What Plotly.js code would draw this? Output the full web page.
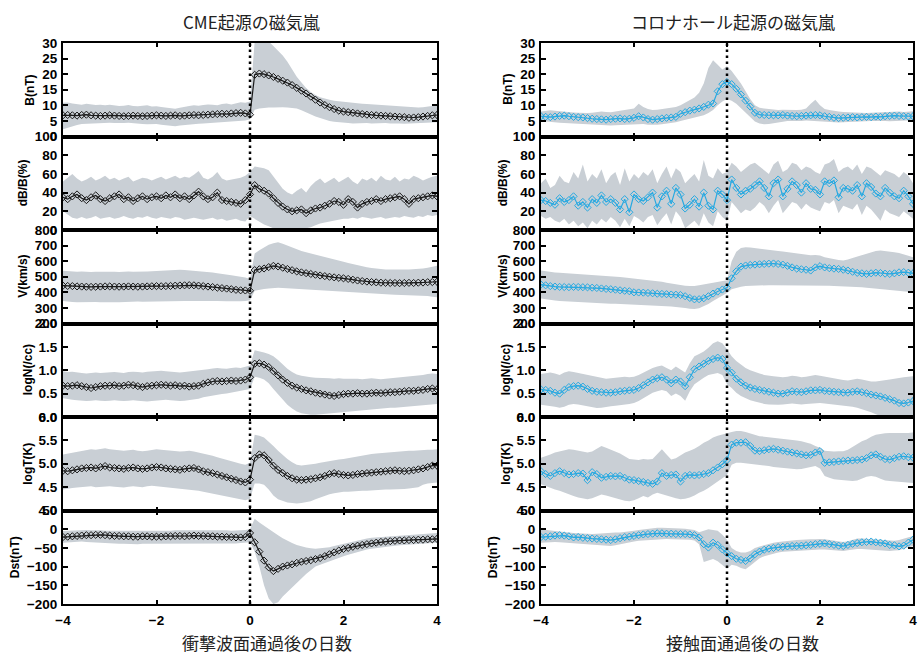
<!DOCTYPE html>
<html><head><meta charset="utf-8">
<script src="https://cdn.plot.ly/plotly-3.0.1.min.js"></script>
<style>html,body{margin:0;padding:0;background:#fff;}</style>
</head><body><div id="chart" style="width:923px;height:663px"></div>
<script>
// ---------- data ----------
const days = [-4,-3.9,-3.8,-3.7,-3.6,-3.5,-3.4,-3.3,-3.2,-3.1,-3,-2.9,-2.8,-2.7,-2.6,-2.5,-2.4,-2.3,-2.2,-2.1,-2,-1.9,-1.8,-1.7,-1.6,-1.5,-1.4,-1.3,-1.2,-1.1,-1,-0.9,-0.8,-0.7,-0.6,-0.5,-0.4,-0.3,-0.2,-0.1,0,0.1,0.2,0.3,0.4,0.5,0.6,0.7,0.8,0.9,1,1.1,1.2,1.3,1.4,1.5,1.6,1.7,1.8,1.9,2,2.1,2.2,2.3,2.4,2.5,2.6,2.7,2.8,2.9,3,3.1,3.2,3.3,3.4,3.5,3.6,3.7,3.8,3.9,4];

const xTicks = [-4,-2,0,2,4];
const bTicks = [0,5,10,15,20,25,30];
const dbTicks = [0,20,40,60,80,100];
const vTicks = [200,300,400,500,600,700,800];
const nTicks = [0,0.5,1,1.5,2];
const tTicks = [4,4.5,5,5.5,6];
const dstTicks = [-200,-150,-100,-50,0,50];
const panelNames = ['B(nT)','dB/B(%)','V(km/s)','logN(/cc)','logT(K)','Dst(nT)'];
const columnTitles = ['CME起源の磁気嵐','コロナホール起源の磁気嵐'];
const xTitles = ['衝撃波面通過後の日数','接触面通過後の日数'];

// CME-driven storms (left column)
const cmeB = [6.8,6.9,6.8,6.7,6.9,7.0,6.8,6.7,6.6,6.7, 6.8,6.7,6.6,6.5,6.6,6.7,6.6,6.5,6.6,6.7, 6.8,6.7,6.6,6.7,6.8,6.6,6.7,6.8,6.9,6.8, 6.9,7.0,7.1,7.2,7.3,7.2,7.4,7.5,7.6,7.4, 7.0, 19.8,20.2,20.0,19.6,19.1,18.5,17.9,17.3,16.5,15.6, 14.7,13.8,12.8,11.8,10.9,10.1,9.4,8.8,8.3,8.0, 7.8,7.6,7.4,7.2,7.0,6.9,6.8,6.7,6.6,6.5, 6.4,6.3,6.2,6.0,6.1,6.2,6.4,6.6,6.8,6.9];
const cmeBHi = [10.8,10.9,10.6,10.4,10.2,10.5,10.3,10.1,10.2,10.0, 10.2,10.0,9.8,9.9,10.1,9.8,9.7,9.9,10.0,9.6, 9.7,9.5,9.3,9.0,8.9,9.2,9.6,9.8,10.0,9.9, 10.1,10.3,10.2,10.0,10.4,10.6,10.3,10.7,11.0,10.8, 11.2, 30.5,32.0,31.5,30.5,29.0,27.5,26.0,24.0,21.5,19.2, 17.3,15.6,14.3,13.3,12.6,12.1,11.8,11.5,11.3,11.1, 10.9,10.8,10.7,10.5,10.4,10.3,10.2,10.1,10.0,9.9, 9.7,9.5,9.4,9.3,9.2,9.3,9.4,9.6,9.8,10.0];
const cmeBLo = [2.3,2.8,3.3,3.7,4.0,4.1,4.2,4.3,4.2,4.3, 4.4,4.3,4.2,4.3,4.4,4.2,4.1,4.0,3.9,4.0, 4.0,3.8,3.6,3.4,3.3,3.5,3.7,3.9,4.0,4.1, 4.2,4.3,4.4,4.5,4.6,4.7,4.8,4.9,5.0,5.1, 5.5, 8.6,9.0,9.2,9.3,9.3,9.4,9.4,9.3,9.2,9.0, 8.4,7.7,7.0,6.4,5.9,5.4,5.0,4.7,4.5,4.3, 4.3,4.2,4.3,4.4,4.3,4.2,4.3,4.4,4.3,4.2, 4.3,4.2,4.1,4.2,4.3,4.4,4.3,4.4,4.5,4.6];

const cmeDB = [35,33,36,38,34,32,35,37,33,31, 34,36,38,33,35,31,34,36,33,35, 36,34,37,35,38,34,36,33,37,41, 36,33,35,40,32,31,30,29,28,32, 38, 48,44,42,39,34,29,25,22,20,21, 22,18,21,23,24,26,28,31,30,27, 33,30,24,28,30,31,33,31,33,34, 35,36,33,28,33,34,35,36,37,36];
const cmeDBHi = [52,56,60,55,52,54,57,53,55,58, 54,56,53,55,57,52,54,56,55,53, 55,57,54,56,58,55,57,56,59,63, 56,54,57,62,55,53,54,55,56,58, 62, 68,67,66,64,57,50,44,40,38,42, 45,40,47,52,55,50,53,56,51,54, 57,52,49,55,53,56,52,58,54,53, 57,52,55,54,58,56,53,55,57,58];
const cmeDBLo = [20,16,13,12,14,12,13,15,12,13, 14,12,13,15,13,12,14,13,15,13, 12,14,13,12,14,13,11,12,13,12, 11,12,13,11,12,10,11,12,10,9, 15, 12,9,6,4,2,1,1,0.5,1,2, 1,2,3,5,7,8,9,10,11,12, 12,13,12,14,13,12,13,14,12,13, 14,13,15,14,13,15,14,16,15,16];

const cmeV = [443,441,440,438,437,436,435,436,437,438, 438,437,436,437,438,437,436,437,438,439, 440,439,440,441,443,444,445,446,445,443, 440,437,434,430,427,424,420,416,413,412, 410, 543,548,553,562,570,566,558,550,542,534, 528,523,518,513,508,504,500,496,493,490, 486,481,476,472,469,466,464,462,461,460, 460,459,460,461,460,462,463,465,466,468];
const cmeVHi = [538,535,534,532,533,531,530,532,533,534, 533,532,531,533,534,532,531,532,533,535, 537,538,540,542,544,545,543,541,539,537, 533,530,527,523,520,515,510,505,500,495, 485, 650,670,690,705,715,722,712,700,688,675, 665,657,650,643,636,628,620,612,604,596, 588,580,573,567,561,556,552,549,547,546, 545,545,546,547,548,550,553,557,563,570];
const cmeVLo = [345,340,338,337,338,339,340,338,337,338, 338,337,336,338,339,340,341,340,341,342, 343,344,345,344,345,346,345,344,345,346, 347,346,345,344,345,343,342,340,342,345, 350, 410,418,422,425,428,430,428,426,424,422, 420,418,416,414,412,410,408,406,404,402, 400,398,396,394,392,390,389,388,387,386, 385,384,383,382,381,380,378,376,372,368];

const cmeN = [0.67,0.66,0.67,0.68,0.66,0.64,0.62,0.64,0.66,0.67, 0.67,0.68,0.66,0.67,0.69,0.68,0.66,0.64,0.66,0.67, 0.68,0.69,0.68,0.67,0.68,0.66,0.67,0.65,0.66,0.67, 0.71,0.74,0.76,0.77,0.76,0.77,0.78,0.77,0.78,0.80, 0.85, 1.14,1.15,1.12,1.07,0.98,0.89,0.80,0.73,0.67,0.63, 0.60,0.57,0.55,0.52,0.50,0.48,0.46,0.45,0.47,0.49, 0.50,0.50,0.51,0.50,0.50,0.51,0.52,0.51,0.52,0.53, 0.53,0.54,0.55,0.56,0.56,0.57,0.58,0.60,0.61,0.59];
const cmeNHi = [0.98,0.96,0.97,0.95,0.94,0.93,0.94,0.95,0.94,0.95, 0.95,0.96,0.95,0.94,0.96,0.97,0.96,0.95,0.97,0.98, 0.98,0.99,0.98,0.97,0.96,0.95,0.96,0.97,0.98,0.99, 1.00,1.02,1.04,1.05,1.04,1.03,1.05,1.06,1.05,1.07, 1.10, 1.43,1.41,1.38,1.35,1.30,1.22,1.12,1.03,0.96,0.91, 0.88,0.86,0.85,0.84,0.84,0.83,0.83,0.82,0.83,0.82, 0.82,0.83,0.82,0.81,0.82,0.83,0.82,0.81,0.82,0.83, 0.83,0.84,0.85,0.86,0.87,0.88,0.90,0.92,0.93,0.92];
const cmeNLo = [0.40,0.38,0.37,0.36,0.35,0.34,0.35,0.36,0.35,0.34, 0.35,0.36,0.35,0.34,0.35,0.36,0.35,0.34,0.33,0.34, 0.35,0.36,0.37,0.36,0.35,0.34,0.35,0.36,0.37,0.39, 0.42,0.44,0.46,0.48,0.49,0.50,0.52,0.54,0.56,0.58, 0.60, 0.86,0.84,0.80,0.72,0.60,0.48,0.36,0.26,0.18,0.12, 0.08,0.06,0.05,0.05,0.06,0.06,0.07,0.08,0.09,0.10, 0.11,0.12,0.13,0.14,0.15,0.16,0.17,0.18,0.19,0.20, 0.20,0.21,0.22,0.22,0.23,0.24,0.25,0.26,0.27,0.28];

const cmeT = [4.85,4.84,4.86,4.88,4.90,4.91,4.92,4.90,4.93,4.95, 4.92,4.91,4.90,4.89,4.91,4.92,4.90,4.89,4.90,4.92, 4.93,4.92,4.90,4.89,4.88,4.87,4.89,4.90,4.91,4.88, 4.84,4.82,4.80,4.77,4.74,4.71,4.68,4.65,4.62,4.60, 4.66, 5.12,5.20,5.18,5.08,4.96,4.87,4.80,4.74,4.69,4.66, 4.65,4.66,4.67,4.69,4.71,4.74,4.78,4.80,4.78,4.76, 4.75,4.76,4.78,4.79,4.80,4.81,4.82,4.83,4.84,4.85, 4.86,4.85,4.84,4.85,4.86,4.88,4.90,4.93,4.96,4.96];
const cmeTHi = [5.20,5.22,5.24,5.26,5.28,5.30,5.31,5.30,5.32,5.33, 5.31,5.30,5.29,5.28,5.29,5.30,5.28,5.27,5.28,5.30, 5.31,5.30,5.29,5.28,5.27,5.26,5.27,5.28,5.26,5.24, 5.22,5.20,5.17,5.14,5.11,5.08,5.05,5.02,5.00,4.98, 5.02, 5.62,5.60,5.56,5.48,5.38,5.28,5.18,5.10,5.03,4.98, 4.96,4.97,4.98,5.00,5.02,5.04,5.06,5.08,5.09,5.10, 5.12,5.14,5.16,5.18,5.20,5.21,5.22,5.23,5.24,5.25, 5.26,5.27,5.27,5.28,5.28,5.29,5.29,5.30,5.30,5.31];
const cmeTLo = [4.45,4.47,4.48,4.49,4.50,4.51,4.52,4.50,4.51,4.52, 4.52,4.51,4.50,4.49,4.51,4.52,4.51,4.50,4.52,4.53, 4.52,4.51,4.50,4.49,4.48,4.47,4.46,4.45,4.44,4.42, 4.40,4.38,4.36,4.34,4.32,4.30,4.28,4.26,4.24,4.22, 4.25, 4.58,4.58,4.55,4.45,4.32,4.24,4.20,4.17,4.16,4.15, 4.16,4.18,4.20,4.24,4.28,4.32,4.35,4.37,4.39,4.40, 4.40,4.41,4.41,4.42,4.42,4.43,4.44,4.44,4.45,4.45, 4.45,4.46,4.46,4.47,4.48,4.50,4.55,4.58,4.59,4.60];

const cmeDst = [-21,-20,-19,-18,-17,-16,-16,-15,-15,-16, -17,-18,-18,-19,-19,-20,-20,-19,-19,-20, -20,-20,-19,-19,-18,-18,-19,-18,-17,-18, -18,-19,-19,-20,-20,-21,-21,-22,-22,-21, -10, -35,-60,-84,-102,-112,-106,-100,-97,-94,-90, -87,-85,-83,-80,-77,-72,-67,-62,-57,-53, -50,-47,-44,-42,-40,-38,-36,-34,-33,-32, -31,-30,-30,-29,-29,-28,-28,-27,-27,-26];
const cmeDstHi = [-5,-4,-3,-3,-2,-2,-3,-2,-3,-4, -4,-5,-5,-4,-5,-6,-6,-5,-5,-6, -6,-5,-5,-4,-3,-3,-2,-2,-1,-2, -1,-2,-2,-3,-3,-3,-4,-4,-3,-2, 0, 28,18,9,0,-8,-16,-24,-31,-37,-42, -46,-49,-51,-52,-51,-50,-48,-45,-42,-38, -35,-32,-29,-27,-25,-23,-22,-20,-19,-18, -17,-16,-15,-14,-13,-12,-11,-11,-10,-10];
const cmeDstLo = [-36,-35,-34,-33,-33,-34,-35,-35,-36,-37, -38,-38,-39,-39,-40,-40,-40,-39,-39,-40, -40,-40,-39,-38,-38,-39,-39,-38,-38,-39, -39,-40,-40,-40,-39,-39,-38,-38,-37,-36, -35, -60,-100,-150,-185,-200,-195,-180,-168,-155,-142, -130,-120,-110,-100,-95,-90,-85,-80,-76,-72, -68,-64,-60,-57,-54,-52,-50,-48,-46,-45, -44,-43,-42,-41,-40,-39,-38,-37,-37,-36];

// Coronal-hole-driven storms (right column)
const chB = [6.5,6.3,6.2,6.4,6.6,6.7,6.5,6.3,6.2,6.1, 5.9,5.7,5.6,5.5,5.4,5.6,5.7,5.8,5.6,5.7, 6.0,6.5,6.1,5.6,5.4,5.6,5.8,6.0,6.1,6.3, 7.3,7.8,8.3,8.6,9.0,9.5,10.2,10.6,14.5,16.8, 17.5, 16.8,15.3,13.5,11.5,9.6,7.6,7.0,6.9,6.8,6.8, 6.8,6.9,6.7,6.6,6.5,6.6,6.7,6.8,6.9,6.8, 6.5,6.3,6.0,5.9,6.0,6.1,6.2,6.1,6.2,6.3, 6.2,6.4,6.3,6.5,6.6,6.7,6.6,6.5,6.4,6.5];
const chBHi = [8.0,8.2,8.4,8.3,8.1,8.0,7.8,7.7,7.6,7.5, 7.5,7.6,7.8,8.0,7.9,7.8,8.0,8.3,8.6,8.8, 9.0,10.5,9.5,8.8,8.5,8.6,8.8,9.0,9.2,9.5, 10.0,10.8,11.5,12.5,14.0,17.0,22.0,24.5,23.0,21.5, 22.5, 21.0,19.0,17.0,14.5,12.0,10.0,9.2,9.0,8.8,8.6, 8.5,8.6,8.5,8.4,8.5,8.6,9.0,10.5,11.8,10.0, 8.8,8.5,8.2,8.0,7.9,7.8,7.7,7.6,7.6,7.5, 7.6,7.7,7.8,7.9,8.0,8.1,8.0,7.9,8.0,8.1];
const chBLo = [5.0,4.8,4.6,4.5,4.4,4.3,4.2,4.1,4.0,4.0, 3.9,3.8,3.7,3.6,3.5,3.5,3.6,3.7,3.8,3.8, 3.8,3.9,4.0,3.8,3.7,3.8,3.9,4.1,4.3,4.6, 5.0,5.4,5.8,6.2,6.5,6.8,7.5,8.5,10.0,11.2, 12.0, 11.5,10.5,9.0,7.5,6.0,4.8,4.2,3.9,4.0,4.3, 4.6,4.8,5.0,5.0,4.9,5.0,5.1,5.0,4.9,5.0, 4.8,4.6,4.5,4.5,4.6,4.7,4.8,4.8,4.9,4.9, 5.0,5.0,5.1,5.0,4.9,5.0,5.1,5.0,5.1,5.2];

const chDB = [32,31,29,27,34,30,32,36,26,30, 24,33,29,37,30,33,29,22,33,19, 38,33,31,35,40,24,36,42,28,45, 38,23,27,33,25,40,26,22,42,38, 32, 54,45,38,42,44,48,52,45,36,50, 54,36,44,52,48,40,50,44,43,38, 52,50,53,35,45,44,42,48,36,50, 46,39,36,45,40,36,34,42,36,28];
const chDBHi = [50,55,45,48,58,52,50,62,55,70, 52,60,55,65,50,58,62,48,66,52, 60,55,62,58,65,50,60,68,55,66, 62,50,55,60,52,75,58,55,66,60, 62, 72,68,62,66,70,72,68,65,60,70, 74,62,65,72,70,64,68,66,62,60, 70,72,76,62,66,68,64,70,60,68, 66,62,58,64,62,60,56,62,58,50];
const chDBLo = [15,12,14,10,8,12,6,10,4,8, 2,10,6,12,8,14,10,3,12,4, 15,12,8,14,16,5,12,18,6,20, 14,2,6,10,4,18,8,4,20,14, 10, 30,24,18,22,20,24,30,26,18,26, 32,18,24,30,28,22,28,24,22,20, 30,28,32,18,26,24,22,28,16,26, 22,16,10,22,18,16,14,20,16,12];

const chV = [450,445,440,437,435,434,433,435,434,433, 432,430,428,425,422,420,417,413,410,407, 400,399,398,396,394,391,390,388,386,385, 383,375,364,355,356,362,375,392,405,418, 430, 490,535,565,572,576,578,580,582,584,585, 582,578,570,560,552,548,545,540,560,568, 560,555,552,550,545,540,532,525,522,518, 522,526,524,520,518,522,528,530,526,522];
const chVHi = [540,535,530,528,526,524,522,520,518,516, 515,514,512,510,508,505,502,498,495,492, 490,487,484,480,476,472,468,462,456,450, 446,442,440,440,445,450,455,462,468,472, 478, 600,660,685,690,688,685,682,678,674,670, 666,662,658,654,650,646,642,638,640,636, 625,618,612,608,605,610,620,630,640,650, 660,666,668,666,662,658,652,645,635,625];
const chVLo = [360,355,350,347,345,343,341,340,338,337, 336,335,333,331,329,327,326,325,324,323, 322,321,320,318,316,315,313,311,309,307, 305,300,295,293,298,310,325,345,362,380, 395, 420,430,436,440,442,444,445,446,446,446, 446,446,446,446,446,445,445,445,444,444, 443,442,441,440,440,438,436,434,432,430, 428,425,422,418,415,412,409,406,403,400];

const chN = [0.59,0.58,0.56,0.52,0.50,0.58,0.64,0.66,0.67,0.65, 0.60,0.56,0.54,0.53,0.52,0.52,0.53,0.55,0.56,0.57, 0.58,0.62,0.68,0.74,0.80,0.83,0.85,0.80,0.72,0.80, 0.76,0.66,0.85,1.02,1.08,1.14,1.20,1.24,1.27,1.24, 1.05, 0.95,0.82,0.74,0.67,0.63,0.60,0.58,0.56,0.54,0.52, 0.50,0.50,0.52,0.55,0.54,0.53,0.55,0.57,0.57,0.58, 0.56,0.55,0.54,0.53,0.52,0.52,0.54,0.55,0.53,0.51, 0.48,0.46,0.44,0.41,0.38,0.35,0.30,0.29,0.31,0.34];
const chNHi = [0.92,0.94,0.95,0.93,0.90,0.95,0.98,0.96,0.94,0.92, 0.90,0.88,0.86,0.84,0.82,0.83,0.84,0.85,0.86,0.85, 0.86,0.90,0.95,1.00,1.05,1.08,1.10,1.05,1.00,1.08, 1.02,0.95,1.15,1.30,1.35,1.40,1.48,1.58,1.62,1.58, 1.45, 1.30,1.20,1.12,1.05,1.00,0.96,0.93,0.90,0.88,0.87, 0.86,0.85,0.86,0.88,0.87,0.85,0.86,0.88,0.90,0.88, 0.86,0.84,0.82,0.80,0.79,0.78,0.80,0.82,0.80,0.78, 0.76,0.76,0.77,0.78,0.80,0.82,0.84,0.85,0.86,0.87];
const chNLo = [0.26,0.25,0.24,0.22,0.20,0.22,0.26,0.28,0.27,0.25, 0.22,0.20,0.19,0.20,0.22,0.23,0.24,0.25,0.27,0.28, 0.30,0.34,0.40,0.46,0.52,0.55,0.58,0.55,0.45,0.50, 0.45,0.35,0.55,0.70,0.78,0.84,0.90,0.92,0.94,0.90, 0.70, 0.62,0.52,0.45,0.40,0.36,0.33,0.30,0.28,0.27,0.26, 0.26,0.27,0.28,0.29,0.28,0.27,0.28,0.29,0.30,0.30, 0.29,0.28,0.27,0.26,0.25,0.24,0.22,0.20,0.17,0.14, 0.10,0.06,0.02,-0.03,-0.08,-0.12,-0.15,-0.17,-0.18,-0.18];

const chT = [4.84,4.78,4.74,4.80,4.84,4.80,4.77,4.78,4.80,4.79, 4.65,4.82,4.78,4.70,4.72,4.74,4.73,4.74,4.70,4.66, 4.65,4.63,4.61,4.59,4.57,4.62,4.80,4.74,4.76,4.77, 4.62,4.74,4.76,4.75,4.76,4.78,4.80,4.86,4.92,4.99, 5.08, 5.41,5.45,5.45,5.46,5.38,5.28,5.27,5.29,5.31,5.32, 5.30,5.28,5.26,5.24,5.22,5.20,5.18,5.19,5.24,5.27, 5.02,5.03,5.04,5.05,5.06,5.07,5.07,5.08,5.09,5.12, 5.18,5.20,5.15,5.10,5.09,5.12,5.15,5.16,5.14,5.13];
const chTHi = [5.13,5.16,5.20,5.24,5.26,5.28,5.31,5.30,5.28,5.26, 5.24,5.26,5.32,5.38,5.34,5.30,5.27,5.22,5.16,5.10, 5.09,5.08,5.10,5.09,5.10,5.20,5.31,5.20,5.09,5.12, 5.18,5.24,5.28,5.32,5.38,5.45,5.50,5.56,5.60,5.63, 5.66, 5.68,5.70,5.70,5.68,5.65,5.62,5.59,5.58,5.57,5.56, 5.55,5.54,5.53,5.52,5.50,5.48,5.46,5.43,5.38,5.34, 5.28,5.27,5.26,5.27,5.27,5.30,5.36,5.42,5.48,5.52, 5.58,5.62,5.64,5.65,5.66,5.66,5.65,5.66,5.66,5.67];
const chTLo = [4.56,4.52,4.48,4.45,4.42,4.38,4.34,4.31,4.28,4.26, 4.24,4.26,4.30,4.34,4.32,4.29,4.27,4.24,4.21,4.20, 4.22,4.26,4.31,4.28,4.34,4.38,4.35,4.31,4.28,4.26, 4.24,4.25,4.28,4.32,4.38,4.42,4.48,4.55,4.62,4.70, 4.76, 4.98,5.02,5.02,5.01,5.00,4.99,4.98,4.97,4.95,4.93, 4.92,4.90,4.89,4.88,4.88,4.89,4.91,4.93,4.95,4.90, 4.74,4.70,4.67,4.66,4.65,4.64,4.63,4.64,4.68,4.72, 4.74,4.72,4.68,4.64,4.63,4.62,4.61,4.60,4.59,4.59];

const chDst = [-21,-20,-19,-17,-16,-17,-19,-22,-21,-23, -24,-25,-26,-27,-28,-29,-27,-24,-21,-20, -18,-16,-14,-13,-12,-11,-11,-12,-12,-13, -13,-13,-14,-16,-22,-40,-49,-36,-42,-54, -64, -72,-79,-82,-85,-78,-67,-60,-55,-52,-50, -48,-47,-46,-45,-45,-44,-43,-42,-40,-39, -38,-40,-42,-44,-45,-42,-39,-37,-35,-34, -33,-35,-36,-38,-42,-43,-46,-44,-36,-28];
const chDstHi = [0,-2,-4,-5,-6,-8,-9,-10,-11,-12, -13,-13,-12,-11,-10,-10,-9,-9,-8,-6, -4,-2,0,2,3,4,4,4,4,3, 2,1,0,-2,-8,-5,0,-2,-4,-15, -28, -50,-58,-62,-62,-58,-50,-46,-42,-39,-36, -34,-32,-31,-30,-29,-28,-28,-27,-27,-26, -27,-29,-31,-33,-34,-32,-28,-25,-25,-26, -27,-28,-29,-30,-31,-31,-29,-26,-22,-18];
const chDstLo = [-36,-35,-34,-34,-35,-36,-37,-38,-39,-40, -40,-41,-42,-43,-44,-45,-43,-40,-37,-35, -33,-31,-30,-28,-27,-27,-26,-26,-27,-27, -27,-27,-28,-30,-40,-88,-85,-80,-86,-95, -106, -95,-98,-104,-107,-98,-88,-78,-72,-68,-65, -62,-60,-59,-58,-57,-57,-56,-55,-55,-54, -54,-55,-56,-57,-58,-56,-54,-53,-53,-54, -55,-56,-57,-58,-58,-57,-56,-52,-48,-45];

// ---------- assembly ----------
const cmeSeries = [[cmeB,cmeBHi,cmeBLo],[cmeDB,cmeDBHi,cmeDBLo],[cmeV,cmeVHi,cmeVLo],[cmeN,cmeNHi,cmeNLo],[cmeT,cmeTHi,cmeTLo],[cmeDst,cmeDstHi,cmeDstLo]];
const chSeries = [[chB,chBHi,chBLo],[chDB,chDBHi,chDBLo],[chV,chVHi,chVLo],[chN,chNHi,chNLo],[chT,chTHi,chTLo],[chDst,chDstHi,chDstLo]];
const yTickSets = [bTicks,dbTicks,vTicks,nTicks,tTicks,dstTicks];
const yFormats = ['d','d','d','.1f','.1f','d'];

const W = 923, H = 663;
const cols = [[63,437],[541,913]];
const topPx = 43, panelPx = 93.5;
const bandColor = '#c9cfd5';
const lineColors = ['#1a1a1a','#27a9e1'];
const titleX = [[30,23,23,28,28,15],[508,503,503,506,506,493]];
const tickFont = {family:'Liberation Sans, Arial, sans-serif', size:13.5, color:'#000', weight:700};
const cjkFont = {family:'Noto Sans CJK JP, sans-serif', size:17, color:'#222'};

const data = [];
const layout = {
  width: W, height: H, margin: {l:0, r:0, t:0, b:0},
  paper_bgcolor: '#fff', plot_bgcolor: '#fff', showlegend: false,
  annotations: [], shapes: []
};

[cmeSeries, chSeries].forEach((series, c) => {
  const xd = [cols[c][0]/W, cols[c][1]/W];
  series.forEach((s, p) => {
    const n = c*6 + p + 1;
    const xa = 'x' + (n === 1 ? '' : n), ya = 'y' + (n === 1 ? '' : n);
    const y0 = 1 - (topPx + panelPx*(p+1))/H, y1 = 1 - (topPx + panelPx*p)/H;
    data.push({x: days, y: s[2], xaxis: xa, yaxis: ya, mode: 'lines', line: {width: 0, color: bandColor}, hoverinfo: 'skip'});
    data.push({x: days, y: s[1], xaxis: xa, yaxis: ya, mode: 'lines', line: {width: 0, color: bandColor}, fill: 'tonexty', fillcolor: bandColor, hoverinfo: 'skip'});
    data.push({x: days, y: s[0], xaxis: xa, yaxis: ya, mode: 'lines+markers',
      line: {width: 1.2, color: lineColors[c]},
      marker: {symbol: 'diamond-open', size: 5.5, color: lineColors[c], line: {width: 1, color: lineColors[c]}}});
    const tv = yTickSets[p];
    layout['xaxis' + (n === 1 ? '' : n)] = {
      domain: xd, range: [-4, 4], anchor: ya, tickvals: xTicks,
      ticks: 'inside', ticklen: 4, tickwidth: 2, tickcolor: '#000', mirror: 'ticks',
      showline: true, linecolor: '#000', linewidth: 2, showgrid: false, zeroline: false,
      showticklabels: p === 5, tickfont: tickFont, ticklabelstandoff: 3
    };
    layout['yaxis' + (n === 1 ? '' : n)] = {
      domain: [y0, y1], range: [tv[0], tv[tv.length-1]], anchor: xa, tickvals: tv,
      tickformat: yFormats[p], ticks: 'inside', ticklen: 5, tickwidth: 2, tickcolor: '#000', mirror: 'ticks',
      showline: true, linecolor: '#000', linewidth: 2, showgrid: false, zeroline: false,
      tickfont: tickFont, ticklabelstandoff: 1
    };
    layout.annotations.push({xref: 'paper', yref: 'paper', x: titleX[c][p]/W, y: (y0+y1)/2,
      text: panelNames[p], textangle: -90, showarrow: false, xanchor: 'center', yanchor: 'middle',
      font: {family: 'Liberation Sans, Arial, sans-serif', size: 12, color: '#000', weight: 700}});
  });
  // dotted zero line across the column
  layout.shapes.push({type: 'line', xref: c === 0 ? 'x' : 'x7', yref: 'paper', x0: 0, x1: 0,
    y0: 1 - (topPx + panelPx*6)/H, y1: 1 - topPx/H, layer: 'above',
    line: {color: '#000', width: 2.5, dash: '2.5px,3.5px'}});
  // titles
  const cx = [251, 733][c];
  layout.annotations.push({xref: 'paper', yref: 'paper', x: cx/W, y: 1 - 21/H, text: columnTitles[c],
    showarrow: false, xanchor: 'center', yanchor: 'middle', font: cjkFont});
  const bx = [267, 742][c];
  layout.annotations.push({xref: 'paper', yref: 'paper', x: bx/W, y: 1 - 642/H, text: xTitles[c],
    showarrow: false, xanchor: 'center', yanchor: 'middle', font: cjkFont});
});

Plotly.newPlot('chart', data, layout, {staticPlot: true, displayModeBar: false});
</script></body></html>
